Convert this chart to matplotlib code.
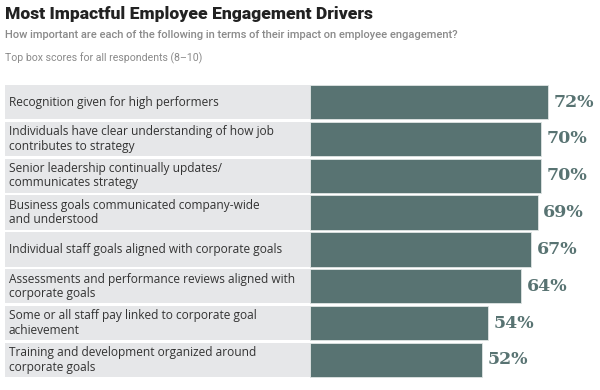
import matplotlib.pyplot as plt
import numpy as np

labels = [
    "Recognition given for high performers",
    "Individuals have clear understanding of how job\ncontributes to strategy",
    "Senior leadership continually updates/\ncommunicates strategy",
    "Business goals communicated company-wide\nand understood",
    "Individual staff goals aligned with corporate goals",
    "Assessments and performance reviews aligned with\ncorporate goals",
    "Some or all staff pay linked to corporate goal\nachievement",
    "Training and development organized around\ncorporate goals",
]
values = [72, 70, 70, 69, 67, 64, 54, 52]

bar_color = "#587372"
box_color = "#e6e7e9"

W, H = 600, 390
fig = plt.figure(figsize=(6, 3.9), dpi=100)

y = np.arange(len(labels))
bottom = 1 - 378.4 / H
height = (378.4 - 83.6) / H

# label boxes
ax_l = fig.add_axes([5 / W, bottom, 305 / W, height])
ax_l.barh(y, [1] * len(y), height=0.93, color=box_color, left=0)
ax_l.set_xlim(0, 1)
ax_l.set_ylim(len(y) - 0.5, -0.5)
ax_l.axis("off")
for i, lab in enumerate(labels):
    ax_l.text(0.012, i, lab, ha="left", va="center", fontsize=8.6,
              family="Open Sans", color="#333333", linespacing=1.15)

# bars
ax_b = fig.add_axes([310 / W, bottom, 290 / W, height])
ax_b.barh(y, values, height=0.93, color=bar_color, edgecolor="#dfe5e4", linewidth=0.6)
ax_b.set_xlim(0, 290 / 3.3)
ax_b.set_ylim(len(y) - 0.5, -0.5)
ax_b.axis("off")
for i, v in enumerate(values):
    ax_b.annotate(f"{v}%", (v, i), xytext=(4, 0), textcoords="offset points",
                  ha="left", va="center", fontsize=12.5, fontweight="bold",
                  family="DejaVu Serif", color=bar_color)

fig.text(5 / W, 1 - 14 / H, "Most Impactful Employee Engagement Drivers",
         ha="left", va="center", fontsize=12.6, fontweight="black",
         family="Roboto", color="#222222")
fig.text(5 / W, 1 - 35 / H,
         "How important are each of the following in terms of their impact on employee engagement?",
         ha="left", va="center", fontsize=8.0, fontweight="medium",
         family="Roboto", color="#8a8a8a")
fig.text(5 / W, 1 - 58 / H, "Top box scores for all respondents (8\u201310)",
         ha="left", va="center", fontsize=7.6,
         family="Roboto", color="#8a8a8a")

fig.savefig("out.png", dpi=100, facecolor="white")
